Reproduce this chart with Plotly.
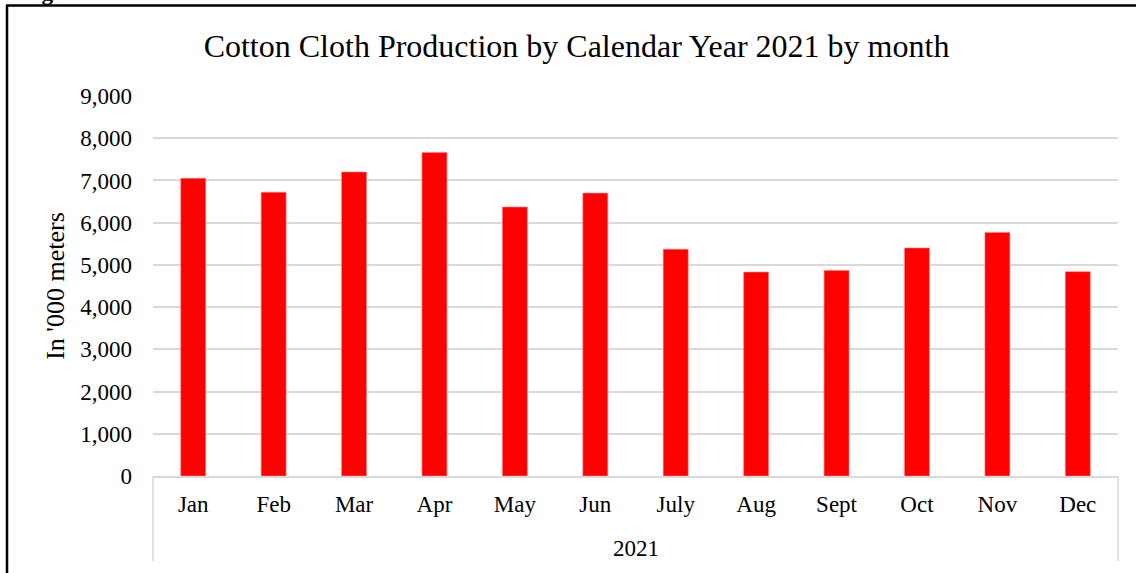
import plotly.graph_objects as go

months = ["Jan", "Feb", "Mar", "Apr", "May", "Jun", "July", "Aug", "Sept", "Oct", "Nov", "Dec"]
production = [7050, 6720, 7200, 7660, 6370, 6700, 5370, 4830, 4870, 5400, 5770, 4840]
year_label = "2021"
title_text = "Cotton Cloth Production by Calendar Year 2021 by month"
y_title = "In '000 meters"
y_ticks = list(range(0, 9001, 1000))

W, H = 1136, 573
L, R, T, B = 153, 18, 96, 97
pw, ph = W - L - R, H - T - B

def px_x(x):
    return (x - L) / pw

def px_y(y):
    return (H - B - y) / ph

FONT = "Liberation Serif, Times New Roman, serif"

fig = go.Figure()
fig.add_trace(go.Bar(
    x=list(range(len(months))), y=production,
    marker=dict(color="#FF0000", line=dict(color="#FF8080", width=0.6)),
    width=0.31,
))

fig.update_layout(
    width=W, height=H,
    margin=dict(l=L, r=R, t=T, b=B, pad=0),
    paper_bgcolor="white", plot_bgcolor="white",
    showlegend=False,
    font=dict(family=FONT, color="black", size=23),
    title=dict(text=title_text, x=(205 + 948) / 2 / W, xanchor="center",
               y=1 - 46 / H, yanchor="middle",
               font=dict(family=FONT, size=32, color="black")),
    xaxis=dict(range=[-0.5, len(months) - 0.5],
               tickmode="array", tickvals=list(range(len(months))), ticktext=months,
               showgrid=False, zeroline=False,
               showline=True, linecolor="#d9d9d9", linewidth=1.5,
               ticks="", ticklabelstandoff=7,
               tickfont=dict(family=FONT, size=23, color="black")),
    yaxis=dict(range=[0, 9000], tickvals=y_ticks, tickformat=",d",
               showgrid=True, gridcolor="#d9d9d9", gridwidth=1.5,
               zeroline=False, showline=False, ticks="",
               ticklabelstandoff=20,
               tickfont=dict(family=FONT, size=23, color="black"),
               title=dict(text=y_title, standoff=8,
                          font=dict(family=FONT, size=26, color="black"))),
)

# multi-level category dividers
for xp in (0, 1):
    fig.add_shape(type="line", xref="paper", yref="paper",
                  x0=xp, x1=xp, y0=0, y1=px_y(561),
                  line=dict(color="#d9d9d9", width=1.5))

fig.add_annotation(text=year_label, xref="paper", yref="paper",
                   x=0.5, y=px_y(548), xanchor="center", yanchor="middle",
                   showarrow=False, font=dict(family=FONT, size=23, color="black"))

# outer frame (left and top edges)
fig.add_shape(type="line", xref="paper", yref="paper",
              x0=px_x(7), x1=px_x(7), y0=px_y(H + 5), y1=px_y(5.5),
              line=dict(color="black", width=2.5))
fig.add_shape(type="line", xref="paper", yref="paper",
              x0=px_x(6), x1=px_x(W + 5), y0=px_y(5.5), y1=px_y(5.5),
              line=dict(color="black", width=2.5))

# cut-off caption fragment at top
fig.add_annotation(text="<b>Figure 1</b>", xref="paper", yref="paper",
                   x=px_x(19), y=px_y(7), xanchor="left", yanchor="bottom",
                   showarrow=False, font=dict(family=FONT, size=23, color="black"))

fig.write_html("out.html")
